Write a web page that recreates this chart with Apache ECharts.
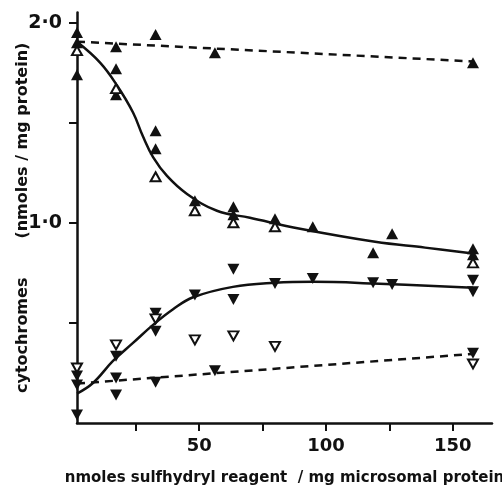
<!DOCTYPE html>
<html>
<head>
<meta charset="utf-8">
<script src="https://cdn.jsdelivr.net/npm/echarts@6/dist/echarts.min.js"></script>
<style>
  html, body { margin: 0; padding: 0; background: #fff; }
  #chart { width: 502px; height: 493px; }
</style>
</head>
<body>
<div id="chart"></div>
<script>
// x = nmoles sulfhydryl reagent / mg microsomal protein, y = nmoles / mg protein
const xTicks = [25, 50, 75, 100, 125, 150];
const xLabels = [50, 100, 150];
const yTicks = [0.5, 1.0, 1.5, 2.0];
const yLabels = [1.0, 2.0];

// measured points
const filledUp = [[1.8,1.95],[1.8,1.90],[1.8,1.74],[17.2,1.88],[17.2,1.77],[17.2,1.64],
    [32.8,1.94],[32.8,1.46],[32.8,1.37],[48.3,1.11],[56.2,1.85],[63.5,1.08],[63.5,1.04],
    [79.9,1.02],[94.8,0.98],[118.6,0.85],[126.1,0.945],[158,1.80],[158,0.87],[158,0.84]];
const openUp = [[1.8,1.86],[17.2,1.67],[32.8,1.23],[48.3,1.06],[63.5,1.00],[79.9,0.98],[158,0.80]];
const filledDown = [[1.8,0.235],[1.8,0.19],[1.8,0.04],[17.2,0.334],[17.2,0.225],[17.2,0.14],
    [32.8,0.548],[32.8,0.458],[32.8,0.204],[48.3,0.64],[56.2,0.261],[63.5,0.768],[63.5,0.617],
    [79.9,0.697],[94.8,0.722],[118.6,0.70],[126.1,0.692],[158,0.713],[158,0.656],[158,0.349]];
const openDown = [[1.8,0.275],[17.2,0.39],[32.8,0.52],[48.3,0.415],[63.5,0.435],[79.9,0.383],[158,0.295]];

// fitted curves
const upperCurve = [[1.8,1.904],[10.9,1.80],[17.6,1.686],[23.9,1.551],[27.8,1.432],[31.8,1.328],
    [37.3,1.234],[45.2,1.144],[57.0,1.06],[70.0,1.025],[89.8,0.97],[119.4,0.905],[139.1,0.876],[158,0.847]];
const lowerCurve = [[1.8,0.147],[8.1,0.20],[16.0,0.31],[23.9,0.40],[31.8,0.49],[39.7,0.568],
    [47.6,0.628],[63.3,0.680],[79.9,0.70],[94.9,0.705],[118.6,0.697],[158,0.676]];
const upperControl = [[1.8,1.905],[158,1.806]];
const lowerControl = [[1.8,0.197],[158,0.345]];

const ink = '#111';
const font = 'DejaVu Sans';

const chart = echarts.init(document.getElementById('chart'));

function lineSeries(data, dashed, smooth) {
    return {
        type: 'line',
        data: data,
        smooth: smooth,
        symbol: 'none',
        lineStyle: { color: ink, width: 2.5, type: dashed ? [8, 6] : 'solid' },
        z: 2,
        silent: true
    };
}

function pointSeries(data, open, down) {
    return {
        type: 'scatter',
        data: data,
        symbol: 'triangle',
        symbolSize: open ? [10, 9] : [12, 11],
        symbolRotate: down ? 180 : 0,
        itemStyle: {
            color: open ? '#fff' : ink,
            borderColor: ink,
            borderWidth: open ? 2 : 0,
            opacity: 1
        },
        z: open ? 4 : 3
    };
}

chart.setOption({
    animation: false,
    backgroundColor: '#fff',
    grid: { left: 77, right: 10, top: 12.6, bottom: 70, outerBoundsMode: 'none' },
    xAxis: {
        type: 'value',
        min: 1.8,
        max: 165.5,
        name: 'nmoles sulfhydryl reagent  / mg microsomal protein',
        nameLocation: 'middle',
        nameGap: 48,
        nameMoveOverlap: false,
        nameTextStyle: { fontFamily: font, fontWeight: 'bold', fontSize: 15, color: ink },
        axisLine: { lineStyle: { color: ink, width: 2.5 } },
        axisTick: { customValues: xTicks, length: 8, lineStyle: { color: ink, width: 2 } },
        axisLabel: {
            customValues: xLabels,
            margin: 14,
            fontFamily: font, fontWeight: 'bold', fontSize: 18, color: ink
        },
        splitLine: { show: false }
    },
    yAxis: {
        type: 'value',
        min: 0,
        max: 2.05,
        name: 'cytochromes       (nmoles / mg protein)',
        nameLocation: 'middle',
        nameGap: 46,
        nameMoveOverlap: false,
        nameTextStyle: { fontFamily: font, fontWeight: 'bold', fontSize: 16, color: ink },
        axisLine: { lineStyle: { color: ink, width: 2.5 } },
        axisTick: { customValues: yTicks, length: 8, lineStyle: { color: ink, width: 2 } },
        axisLabel: {
            customValues: yLabels,
            margin: 15,
            fontFamily: font, fontWeight: 'bold', fontSize: 19, color: ink,
            formatter: v => v.toFixed(1).replace('.', '·')
        },
        splitLine: { show: false }
    },
    series: [
        lineSeries(upperCurve, false, 0.4),
        lineSeries(lowerCurve, false, 0.4),
        lineSeries(upperControl, true, false),
        lineSeries(lowerControl, true, false),
        pointSeries(filledUp, false, false),
        pointSeries(openUp, true, false),
        pointSeries(filledDown, false, true),
        pointSeries(openDown, true, true)
    ]
});
</script>
</body>
</html>
